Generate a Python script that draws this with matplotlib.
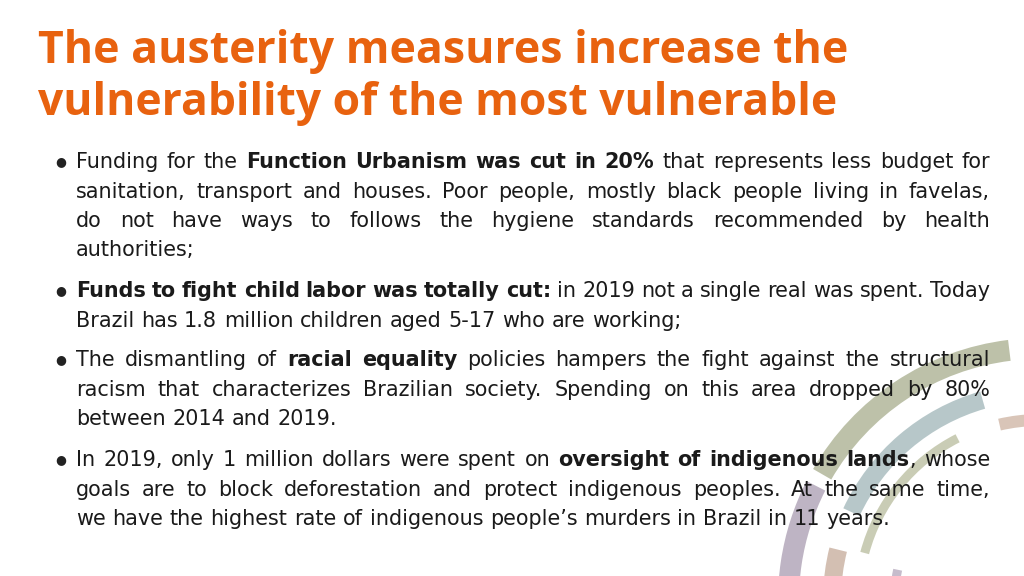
import matplotlib
matplotlib.use("Agg")
import matplotlib.pyplot as plt
from matplotlib.patches import Wedge

W, H = 1024, 576
title_lines = ["The austerity measures increase the", "vulnerability of the most vulnerable"]
title_y = [52, 103]
title_widths = [810, 798]

# paragraphs: list of lines; each line is list of (text, bold)
paragraphs = [
    [[("Funding for the ", 0), ("Function Urbanism was cut in 20%", 1), (" that represents less budget for", 0)],
     [("sanitation, transport and houses. Poor people, mostly black people living in favelas,", 0)],
     [("do not have ways to follows the hygiene standards recommended by health", 0)],
     [("authorities;", 0)]],
    [[("Funds to fight child labor was totally cut:", 1), (" in 2019  not a single real was spent. Today", 0)],
     [("Brazil has 1.8 million children aged 5-17 who are working;", 0)]],
    [[("The dismantling of ", 0), ("racial equality", 1), (" policies hampers the fight against the structural", 0)],
     [("racism that characterizes Brazilian society. Spending on this area dropped by  80%", 0)],
     [("between 2014 and 2019.", 0)]],
    [[("In 2019, only 1 million dollars were spent on ", 0), ("oversight of indigenous lands", 1), (", whose", 0)],
     [("goals are to block deforestation and protect indigenous peoples. At the same time,", 0)],
     [("we have the highest rate of indigenous people\u2019s murders in Brazil in 11 years.", 0)]],
]
line_y = [[162, 192, 221, 250], [291, 321], [360, 390, 419], [460, 490, 519]]

# decorative arcs: (r_outer, width, theta1, theta2, color)
CX, CY = 1040, 600
arcs = [
    (262, 21, 97, 150, "#a7ad8c"),
    (262, 21, 153, 190, "#a99bb0"),
    (262, 21, 60, 88, "#ab9fb3"),
    (217, 18, 106, 155, "#9fb5b8"),
    (217, 18, 166, 192, "#c5aa99"),
    (186, 9, 117, 165, "#b8bc9c"),
    (186, 12, 55, 103, "#cdb2a1"),
    (150, 9, 168, 185, "#b3a6bb"),
]

fig = plt.figure(figsize=(W / 100, H / 100), dpi=100)
ax = fig.add_axes([0, 0, 1, 1])
ax.set_xlim(0, W)
ax.set_ylim(0, H)
ax.axis("off")

for r, w, t1, t2, c in arcs:
    ax.add_patch(Wedge((CX, H - CY), r, t1, t2, width=w, facecolor=c, edgecolor="none", alpha=0.75, zorder=1))

fig.canvas.draw()
ren = fig.canvas.get_renderer()
TFONT = "Open Sans"
FONT = "DejaVu Sans"

def width_of(s, bold, size, font=FONT):
    t = ax.text(0, 0, s, fontsize=size, fontfamily=font, fontweight="bold" if bold else "normal")
    wpx = t.get_window_extent(renderer=ren).width
    t.remove()
    return wpx

for s, y, tw in zip(title_lines, title_y, title_widths):
    size = 30 * tw / width_of(s, 1, 30, TFONT)
    ax.text(38, H - y, s, fontsize=size, fontfamily=TFONT, fontweight="bold", color="#e8620f", va="center", zorder=3)

BS = 13 * 812 / width_of(paragraphs[3][2][0][0], 0, 13)
X0, X1 = 76, 990
sp = width_of("a a", 0, BS) - width_of("aa", 0, BS)

def words_of(line):
    words, cur = [], []
    for seg, b in line:
        parts = seg.split(" ")
        for k, p in enumerate(parts):
            if k > 0 and cur:
                words.append(cur)
                cur = []
            if p:
                cur.append((p, b))
    if cur:
        words.append(cur)
    return words

for para, ys in zip(paragraphs, line_y):
    ax.text(55, H - ys[0], "\u25CF", fontsize=9, color="#222222", va="center", fontfamily="DejaVu Sans", zorder=3)
    for i, (line, y) in enumerate(zip(para, ys)):
        words = words_of(line)
        widths = [[width_of(p, b, BS) for p, b in wd] for wd in words]
        total = sum(sum(w) for w in widths)
        last = i == len(para) - 1
        gap = sp if last or len(words) < 2 else (X1 - X0 - total) / (len(words) - 1)
        x = X0
        for wd, ws in zip(words, widths):
            for (p, b), wpx in zip(wd, ws):
                ax.text(x, H - y, p, fontsize=BS, fontfamily=FONT, fontweight="bold" if b else "normal",
                        color="#1a1a1a", va="center", zorder=3)
                x += wpx
            x += gap

fig.savefig("out.png", dpi=100)
